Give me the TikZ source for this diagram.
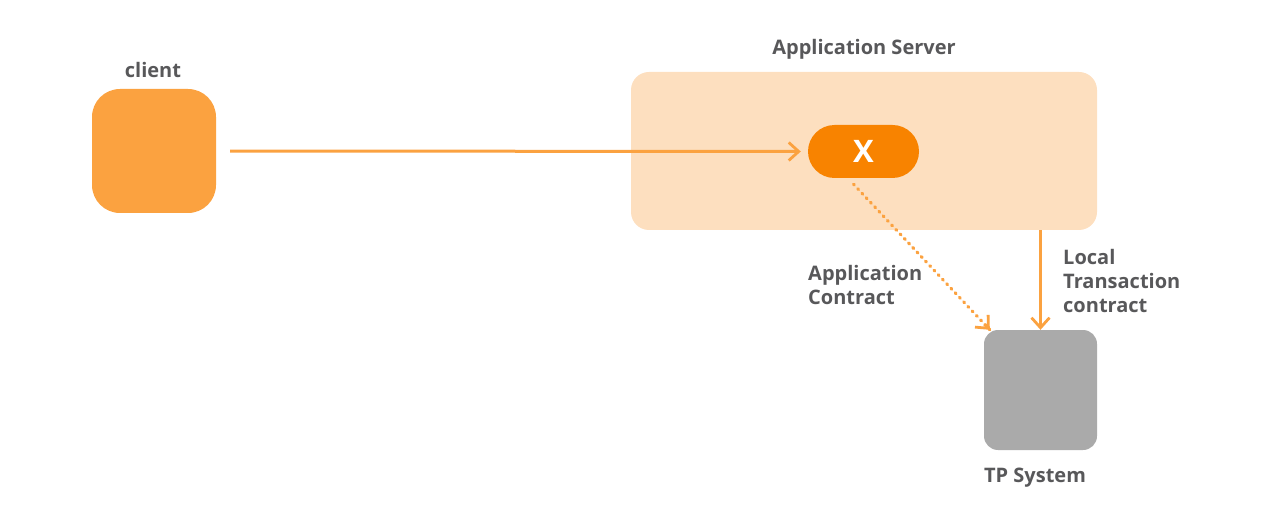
\documentclass[tikz,border=0pt]{standalone}
\usepackage{fontspec}
\setmainfont{Open Sans}
\usetikzlibrary{arrows.meta}
\definecolor{cli}{HTML}{FBA240}
\definecolor{srv}{HTML}{FDDFBF}
\definecolor{xor}{HTML}{F88300}
\definecolor{tpg}{HTML}{AAAAAA}
\definecolor{txt}{HTML}{58585A}
\definecolor{lnc}{HTML}{FBA240}
\tikzset{
  box/.style={draw=none, inner sep=0pt},
  lbl/.style={text=txt, font=\bfseries\fontsize{20}{24}\selectfont, inner sep=0pt},
  conn/.style={draw=lnc, line width=3pt, -{Straight Barb[length=10pt,width=18pt,line width=2.8pt]}},
  dotline/.style={draw=lnc, line width=3.2pt, line cap=round, dash pattern=on 1.2pt off 5pt},
}
\begin{document}
\begin{tikzpicture}[x=1pt,y=-1pt]
\useasboundingbox (0,0) rectangle (1273,526);
\node[box, fill=cli, minimum width=124pt, minimum height=124pt, rounded corners=28pt] (client) at (154,151) {};
\node[box, fill=srv, minimum width=466pt, minimum height=158pt, rounded corners=18pt] (server) at (864,151) {};
\node[box, fill=xor, minimum width=111pt, minimum height=53pt, rounded corners=26.5pt, text=white, font=\bfseries\fontsize{31}{31}\selectfont] (x) at (863.5,151.5) {X};
\node[box, fill=tpg, minimum width=113pt, minimum height=120pt, rounded corners=14pt] (tp) at (1040.5,390) {};

\node[lbl] (clientlbl) at (153,70.5) {client};
\node[lbl] (serverlbl) at (864,49.5) {Application Server};
\node[lbl] (tplbl) at (1035,477.5) {TP System};
\node[lbl, align=left, anchor=north west] (applbl) at (808,265.5) {Application\\Contract};
\node[lbl, align=left, anchor=north west] (loclbl) at (1063,249.5) {Local\\Transaction\\contract};

\draw[conn, shorten <=14pt, shorten >=7pt] (client.east) -- (x.west);
\draw[dotline] ([xshift=-10pt,yshift=-6pt]x.south) -- ([xshift=6pt]tp.north west);
\draw[conn, shorten <=192pt] ([xshift=-10pt,yshift=-6pt]x.south) -- ([xshift=6pt]tp.north west);
\draw[conn] (server.south -| tp.north) -- (tp.north);
\end{tikzpicture}
\end{document}
